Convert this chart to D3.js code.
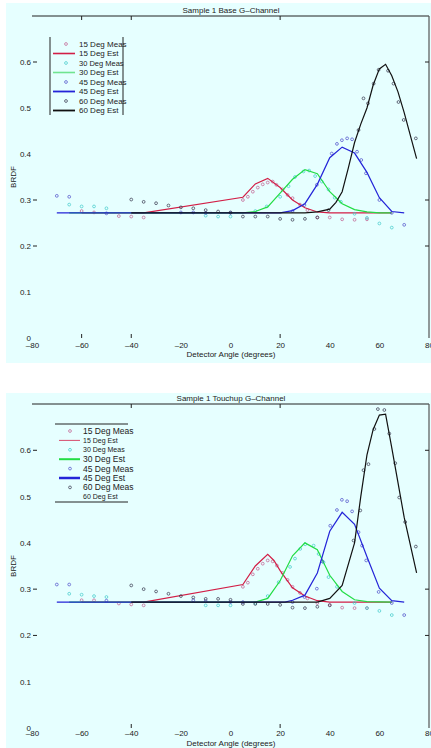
<!DOCTYPE html>
<html>
<head>
<meta charset="utf-8">
<script src="https://cdn.jsdelivr.net/npm/d3@7"></script>
<style>
body { margin: 0; background: #fff; }
svg text { font-family: "Liberation Sans", Arial, sans-serif; fill: #222; }
</style>
</head>
<body>
<div id="mainDiv"></div>
<script>
'use strict';

var xTicks = [-80, -60, -40, -20, 0, 20, 40, 60, 80];
var yTicks = [0, 0.1, 0.2, 0.3, 0.4, 0.5, 0.6];
var legendLabels = ['15 Deg Meas', '15 Deg Est', '30 Deg Meas', '30 Deg Est',
                    '45 Deg Meas', '45 Deg Est', '60 Deg Meas', '60 Deg Est'];

// Sample 1 Base  -  [detector angle, BRDF]
var baseMeas15 = [[-60,.276],[-55,.273],[-45,.265],[-40,.264],[-35,.262],[5,.3],[7,.307],[9,.318],[11,.327],
  [13,.334],[15,.338],[17,.34],[18.5,.333],[21,.323],[23,.311],[25,.304],[28,.29],[31,.278],[35,.262],
  [40,.262],[45,.258],[50,.257],[55,.258]];
var baseEst15 = [[-60,.272],[-35,.272],[5,.306],[10,.335],[15,.347],[20,.327],[25,.3],[30,.283],[35,.274],[40,.272],[65,.272]];
var baseMeas30 = [[-65,.29],[-60,.286],[-55,.286],[-50,.282],[-10,.266],[-5,.264],[0,.264],[10,.276],[14.6,.286],
  [20,.307],[23.4,.33],[26,.35],[29.4,.362],[31.7,.364],[34.1,.352],[36.8,.34],[39.5,.323],[42,.305],
  [44.5,.296],[50,.27],[55,.261],[60,.249],[65,.24]];
var baseEst30 = [[-65,.272],[5,.272],[10,.275],[15,.285],[20,.315],[25,.345],[30,.366],[35,.357],[40,.318],
  [45,.292],[50,.279],[55,.274],[60,.272],[65,.272]];
var baseMeas45 = [[-70,.309],[-65,.307],[-50,.271],[-20,.273],[-15,.273],[-10,.272],[0,.272],[25,.276],[29.8,.289],
  [34.8,.333],[40.8,.401],[42.9,.422],[44.9,.43],[47,.434],[49,.432],[51,.405],[52.7,.387],[54.6,.358],
  [60,.3],[65,.272],[70,.246]];
var baseEst45 = [[-70,.272],[20,.272],[25,.277],[30,.292],[35,.334],[40,.392],[45,.415],[50,.402],[55,.36],
  [60,.305],[65,.275],[70,.272]];
var baseMeas60 = [[-40,.301],[-35,.296],[-30,.293],[-25,.288],[-20,.284],[-15,.282],[-10,.278],[-5,.275],[0,.273],
  [5,.264],[10,.264],[15,.264],[20,.259],[25,.257],[30,.259],[35,.262],[39.5,.278],[51.6,.452],[53.6,.521],
  [55.4,.51],[57.7,.553],[59.7,.583],[63.5,.581],[65.7,.553],[67.7,.513],[69.8,.474],[74.7,.434]];
var baseEst60 = [[-40,.272],[30,.272],[35,.274],[40,.28],[42.5,.295],[45,.318],[47.5,.37],[50,.425],[52.5,.465],
  [55,.5],[57.5,.55],[60,.585],[62.5,.595],[65,.57],[67.5,.535],[70,.49],[72.5,.44],[75,.39]];

// Sample 1 Touchup
var touchMeas15 = [[-60,.276],[-55,.276],[-45,.269],[-40,.267],[-35,.265],[5,.305],[7,.314],[9,.332],[11,.344],
  [13,.355],[15,.362],[17,.36],[18.7,.351],[21,.335],[23,.32],[25,.305],[28,.292],[31,.28],[35,.27],
  [40,.266],[45,.26],[50,.259],[55,.259]];
var touchEst15 = [[-60,.272],[-35,.272],[5,.31],[10,.35],[15,.375],[17.5,.362],[20,.34],[25,.303],[30,.285],
  [35,.275],[40,.272],[65,.272]];
var touchMeas30 = [[-65,.29],[-60,.288],[-55,.285],[-50,.283],[-10,.265],[-5,.265],[0,.265],[10,.27],[15,.285],
  [19.4,.315],[24,.348],[26,.366],[28.1,.387],[30.1,.397],[33.5,.394],[35.5,.376],[37.5,.358],[39.5,.326],
  [42.9,.305],[50,.27],[55,.259],[60,.253],[65,.244]];
var touchEst30 = [[-65,.272],[10,.272],[15,.28],[20,.318],[25,.372],[30,.4],[35,.385],[40,.33],[45,.295],
  [50,.277],[55,.273],[65,.272]];
var touchMeas45 = [[-70,.31],[-65,.31],[-50,.275],[-15,.276],[-10,.274],[0,.272],[5,.272],[25,.272],[29.8,.283],
  [34.8,.301],[37,.36],[40.2,.437],[42.9,.471],[44.9,.493],[47,.49],[49,.468],[51.6,.423],[53,.394],
  [54.7,.362],[59.7,.294],[65,.27],[70,.244]];
var touchEst45 = [[-70,.272],[22,.272],[25,.276],[30,.287],[35,.335],[40,.425],[45,.466],[50,.44],[55,.37],
  [60,.302],[65,.275],[70,.272]];
var touchMeas60 = [[-40,.308],[-35,.3],[-30,.295],[-25,.29],[-20,.285],[-15,.282],[-10,.279],[-5,.279],[0,.277],
  [5,.268],[10,.268],[15,.268],[20,.266],[25,.26],[30,.259],[35,.262],[40,.265],[49.6,.405],[52.3,.47],
  [53.6,.557],[55.6,.57],[58,.646],[59.4,.689],[62,.687],[64,.636],[66.4,.572],[68,.498],[70.4,.445],[74.7,.392]];
var touchEst60 = [[-40,.272],[35,.272],[40,.28],[45,.308],[50,.4],[52.5,.5],[55,.59],[57.5,.645],[60,.676],
  [62.5,.678],[65,.605],[67.5,.53],[70,.455],[72.5,.395],[75,.335]];


var myApp = {};

myApp.measColors = ['#c05a8c', '#3cc8c8', '#4a4ac8', '#303048'];
myApp.estColors  = ['#d21e46', '#22dd44', '#2424d8', '#111111'];

myApp.fmtX = function(d) { return d < 0 ? '\u2013' + Math.abs(d) : String(d); };
myApp.fmtY = function(d) { return d === 0 ? '0' : d.toFixed(1); };

myApp.drawPanel = function(svg, p)
{
    var x = d3.scaleLinear().domain([-80, 80]).range([32, 429]);
    var y = d3.scaleLinear().domain([0, 0.7]).range([p.bottom, p.top]);
    var g = svg.append('g');

    g.append('rect')
        .attr('x', 6).attr('y', p.bgTop)
        .attr('width', 425).attr('height', p.bgBottom - p.bgTop)
        .attr('fill', '#e6ffff');

    // only the top and right box edges show in the original
    g.append('line').attr('x1', x(-80)).attr('x2', x(80)).attr('y1', y(0.7)).attr('y2', y(0.7))
        .attr('stroke', '#222').attr('stroke-width', 1);
    g.append('line').attr('x1', x(80)).attr('x2', x(80)).attr('y1', y(0.7)).attr('y2', y(0))
        .attr('stroke', '#555').attr('stroke-width', 1.2);

    var yAxis = d3.axisLeft(y).tickValues(yTicks).tickSize(0).tickPadding(0).tickFormat(myApp.fmtY);
    var xAxis = d3.axisBottom(x).tickValues(xTicks).tickSize(0).tickPadding(p.xPad).tickFormat(myApp.fmtX);

    var ya = g.append('g').attr('transform', 'translate(31,0)').call(yAxis);
    var xa = g.append('g').attr('transform', 'translate(0,' + y(0) + ')').call(xAxis);
    [ya, xa].forEach(function(a) {
        a.select('.domain').remove();
        a.selectAll('text').attr('font-size', 8).attr('fill', '#222')
            .attr('font-family', '"Liberation Sans", Arial, sans-serif');
    });

    // inward tick marks
    p.xMarks.forEach(function(v) {
        g.append('line').attr('x1', x(v)).attr('x2', x(v)).attr('y1', y(0)).attr('y2', y(0) - 4).attr('stroke', '#222');
        g.append('line').attr('x1', x(v)).attr('x2', x(v)).attr('y1', y(0.7)).attr('y2', y(0.7) + 4).attr('stroke', '#222');
    });
    p.yMarks.forEach(function(v) {
        g.append('line').attr('x1', x(-80) + 1).attr('x2', x(-80) + 5).attr('y1', y(v)).attr('y2', y(v)).attr('stroke', '#222');
        g.append('line').attr('x1', x(80)).attr('x2', x(80) - 4).attr('y1', y(v)).attr('y2', y(v)).attr('stroke', '#222');
    });

    g.append('text').attr('x', 231).attr('y', y(0.7) - 3).attr('text-anchor', 'middle')
        .attr('font-size', 8).text(p.title);
    g.append('text').attr('x', 231).attr('y', y(0) + p.xTitleDy).attr('text-anchor', 'middle')
        .attr('font-size', 8).text('Detector Angle (degrees)');
    g.append('text').attr('transform', 'translate(16,' + ((y(0) + y(0.7)) / 2) + ') rotate(-90)')
        .attr('text-anchor', 'middle').attr('font-size', 8).text('BRDF');

    var line = d3.line().x(function(d) { return x(d[0]); }).y(function(d) { return y(d[1]); });

    for (var i = 0; i < 4; i++) {
        g.append('g').selectAll('circle')
            .data(p.meas[i]).enter().append('circle')
            .attr('cx', function(d) { return x(d[0]); })
            .attr('cy', function(d) { return y(d[1]); })
            .attr('r', 1.4)
            .attr('fill', 'none')
            .attr('stroke', myApp.measColors[i])
            .attr('stroke-width', 0.7);
        g.append('path').datum(p.est[i])
            .attr('d', line)
            .attr('fill', 'none')
            .attr('stroke', myApp.estColors[i])
            .attr('stroke-width', 1.2);
    }

    myApp.drawLegend(g, p.legend);
};

myApp.drawLegend = function(g, L)
{
    var lg = g.append('g');
    if (L.sides) {
        lg.append('line').attr('x1', L.left).attr('x2', L.left).attr('y1', L.top).attr('y2', L.bottom).attr('stroke', '#222');
        lg.append('line').attr('x1', L.right).attr('x2', L.right).attr('y1', L.top).attr('y2', L.bottom).attr('stroke', '#222');
    } else {
        lg.append('line').attr('x1', L.left).attr('x2', L.right).attr('y1', L.top).attr('y2', L.top).attr('stroke', '#222');
        lg.append('line').attr('x1', L.left).attr('x2', L.right).attr('y1', L.bottom).attr('y2', L.bottom).attr('stroke', '#222');
    }
    legendLabels.forEach(function(lab, i) {
        var ry = L.firstRow + i * L.step;
        var k = Math.floor(i / 2);
        if (i % 2 === 0) {
            lg.append('circle').attr('cx', L.left + L.markerDx).attr('cy', ry).attr('r', 1.4)
                .attr('fill', 'none').attr('stroke', myApp.measColors[k]).attr('stroke-width', 0.7);
        } else if (L.lineWidths[k] > 0) {
            lg.append('line').attr('x1', L.left + L.lineX0).attr('x2', L.left + L.lineX1)
                .attr('y1', ry).attr('y2', ry)
                .attr('stroke', L.lineColors ? L.lineColors[k] : myApp.estColors[k])
                .attr('stroke-width', L.lineWidths[k]);
        }
        lg.append('text').attr('x', L.left + L.textDx).attr('y', ry).attr('dy', '0.35em')
            .attr('font-size', L.fontSizes[i]).text(lab);
    });
};

myApp.run = function()
{
    var svg = d3.select('#mainDiv').append('svg').attr('width', 431).attr('height', 748);

    myApp.drawPanel(svg, {
        title: 'Sample 1 Base G\u2013Channel',
        top: 16, bottom: 338, bgTop: 3, bgBottom: 363, xPad: 4, xTitleDy: 19,
        xMarks: [-60, -40, 20], yMarks: [0.2, 0.3, 0.6],
        meas: [baseMeas15, baseMeas30, baseMeas45, baseMeas60],
        est:  [baseEst15, baseEst30, baseEst45, baseEst60],
        legend: { sides: true, left: 50, right: 123, top: 37, bottom: 115,
                  firstRow: 44, step: 9.5, markerDx: 16, lineX0: 3, lineX1: 25, textDx: 29,
                  lineColors: ['#d21e46', '#70e490', '#2424d8', '#111111'],
                  lineWidths: [1.6, 1.6, 1.8, 1.8], fontSizes: [8, 8, 7.5, 8, 8, 8, 8, 8] }
    });

    myApp.drawPanel(svg, {
        title: 'Sample 1 Touchup G\u2013Channel',
        top: 404, bottom: 728, bgTop: 393, bgBottom: 748, xPad: 2.5, xTitleDy: 18,
        xMarks: [-40, 20], yMarks: [0.2, 0.3, 0.6],
        meas: [touchMeas15, touchMeas30, touchMeas45, touchMeas60],
        est:  [touchEst15, touchEst30, touchEst45, touchEst60],
        legend: { sides: false, left: 55, right: 128, top: 424, bottom: 502,
                  firstRow: 431, step: 9.4, markerDx: 15, lineX0: 4, lineX1: 25, textDx: 28,
                  lineWidths: [0.8, 2, 2.5, 0], fontSizes: [8.5, 7, 7, 8.5, 8.5, 8.5, 8.5, 7] }
    });
};

window.onload = function() {
    myApp.run();
};
</script>
</body>
</html>
